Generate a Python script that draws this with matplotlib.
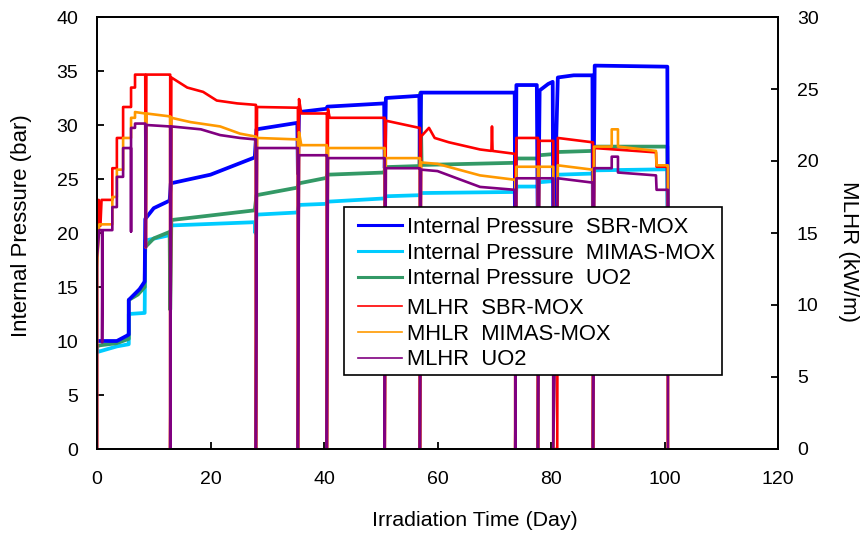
import matplotlib
matplotlib.use("Agg")
import matplotlib.pyplot as plt
from matplotlib.patches import Rectangle

plt.rcParams['font.family'] = ['Liberation Sans', 'DejaVu Sans']

# ---------------- data ----------------
# Internal pressure (bar), SBR-MOX
p_sbr_day = [0.0, 3.5, 5.3, 5.6, 5.6, 7.5, 8.4, 8.5, 10.0, 12.8, 13.0, 20.0, 27.8,
             28.1, 35.3, 35.4, 35.6, 40.4, 40.6, 50.6, 50.7, 50.9, 56.8, 56.9, 57.1, 73.6, 73.7,
             73.9, 77.5, 77.7, 78.0, 79.5, 80.3, 80.4, 81.2, 84.0, 87.3, 87.4, 87.7, 100.5, 100.6]
p_sbr_val = [10.0, 10.0, 10.5, 10.6, 13.8, 14.8, 15.5, 21.3, 22.3, 23.0, 24.6, 25.4, 27.0,
             29.6, 30.2, 25.5, 31.2, 31.5, 31.7, 32.0, 26.0, 32.5, 32.7, 26.5, 33.0, 33.0, 18.0,
             33.7, 33.7, 18.0, 33.2, 33.8, 34.0, 18.0, 34.4, 34.6, 34.6, 18.0, 35.5, 35.4, 18.0]

# Internal pressure (bar), MIMAS-MOX
p_mimas_day = [0.0, 0.2, 3.5, 5.6, 5.6, 8.4, 8.5, 12.8, 12.9, 13.1, 27.8, 27.9, 28.1, 35.3, 35.6,
               40.4, 40.6, 50.6, 50.8, 56.8, 57.1, 73.6, 73.7, 73.9, 77.6, 77.9, 80.3, 81.2, 87.3,
               87.6, 100.5, 100.6]
p_mimas_val = [9.3, 9.0, 9.5, 9.7, 12.5, 12.6, 19.3, 19.8, 19.8, 20.7, 21.0, 20.0, 21.7, 21.9, 22.6,
               22.7, 22.9, 23.2, 23.4, 23.5, 23.7, 23.8, 21.0, 24.3, 24.3, 24.7, 24.8, 25.4, 25.5,
               25.8, 25.9, 18.0]

# Internal pressure (bar), UO2
p_uo2_day = [0.0, 0.5, 3.5, 5.6, 5.6, 7.2, 8.4, 8.5, 10.0, 12.8, 12.9, 13.1, 27.8, 28.1, 35.3,
             35.6, 40.4, 40.6, 50.6, 50.8, 56.8, 57.0, 57.2, 73.6, 73.9, 77.6, 77.9, 80.3, 81.2,
             87.3, 87.6, 100.5, 100.6]
p_uo2_val = [9.5, 9.6, 9.8, 10.2, 13.8, 14.3, 15.0, 18.7, 19.5, 20.1, 12.9, 21.2, 22.1, 23.5, 24.2,
             24.6, 25.1, 25.4, 25.6, 26.1, 26.2, 33.0, 26.3, 26.5, 26.9, 26.9, 27.2, 27.3, 27.5,
             27.6, 28.0, 28.0, 20.0]

# MLHR (kW/m), SBR-MOX
q_sbr_day = [0.0, 0.0, 0.3, 0.6, 0.8, 2.7, 2.7, 3.5, 3.5, 4.6, 4.6, 6.0, 6.0, 6.7, 6.7, 8.5,
             8.6, 8.7, 12.8,
             12.9, 12.9, 13.1, 15.9, 18.7, 21.1, 24.7, 27.9, 28.0, 28.0, 28.2, 35.3, 35.4, 35.4,
             35.6, 36.0, 40.4, 40.5, 40.5, 40.7, 41.0, 50.6, 50.7, 50.7, 50.9, 56.8, 56.9, 56.9,
             57.1, 58.5, 59.5, 62.0, 67.5, 69.5, 69.6, 69.7, 73.6, 73.7, 73.7, 73.9, 77.6, 77.7,
             77.7, 77.9, 80.3, 80.4, 80.4, 81.0, 81.1, 81.1, 81.2, 87.3, 87.4, 87.4, 87.6, 98.5,
             98.6, 100.5, 100.6, 100.6]
q_sbr_val = [0.0, 14.0, 17.3, 15.5, 17.3, 17.3, 19.5, 19.5, 21.6, 21.6, 23.75, 23.75, 25.1, 25.1, 26.0, 26.0,
             14.0, 26.0, 26.0,
             26.0, 0.0, 25.8, 25.1, 24.8, 24.2, 24.0, 23.9, 23.9, 0.0, 23.75, 23.7, 23.7, 0.0,
             24.3, 23.3, 23.3, 23.3, 0.0, 23.6, 23.0, 23.0, 23.0, 0.0, 22.8, 22.3, 22.3, 0.0,
             21.7, 22.3, 21.6, 21.3, 20.8, 20.7, 22.4, 20.7, 20.5, 20.5, 0.0, 21.6, 21.6, 21.6,
             0.0, 21.4, 21.4, 21.4, 0.0, 0.0, 0.0, 0.0, 21.6, 21.3, 21.3, 0.0, 20.9, 20.6,
             19.6, 19.6, 19.6, 0.0]

# MLHR (kW/m), MIMAS-MOX
q_mimas_day = [0.0, 0.0, 0.4, 2.7, 2.7, 3.5, 3.5, 4.6, 4.6, 6.0, 6.0, 6.7, 6.7, 8.5, 8.6, 8.7,
               12.8, 12.9, 12.9,
               13.1, 16.5, 21.7, 25.2, 27.9, 28.0, 28.0, 28.2, 35.3, 35.4, 35.4, 35.6, 36.0, 40.4,
               40.5, 40.5, 40.7, 50.6, 50.7, 50.7, 50.9, 56.8, 56.9, 56.9, 57.1, 60.0, 67.5, 73.6,
               73.7, 73.7, 73.9, 77.6, 77.7, 77.7, 77.9, 80.3, 80.4, 80.4, 81.2, 87.3, 87.4, 87.4,
               87.6, 90.7, 90.7, 91.8, 91.8, 98.5, 98.6, 100.5, 100.6, 100.6]
q_mimas_val = [0.0, 12.6, 15.6, 15.6, 17.5, 17.5, 19.4, 19.4, 21.6, 21.6, 23.0, 23.0, 23.4, 23.3, 14.0, 23.3,
               23.1, 23.1, 0.0,
               23.0, 22.7, 22.4, 21.9, 21.7, 21.7, 0.0, 21.6, 21.5, 21.5, 0.0, 22.0, 21.1, 21.1,
               21.1, 0.0, 20.9, 20.9, 20.9, 0.0, 20.2, 20.2, 20.2, 0.0, 19.9, 19.8, 19.0, 18.7,
               18.7, 0.0, 19.6, 19.6, 19.6, 0.0, 19.6, 19.6, 19.6, 0.0, 19.7, 19.4, 19.4, 0.0,
               21.0, 21.0, 22.2, 22.2, 21.0, 20.7, 19.7, 19.7, 19.7, 0.0]

# MLHR (kW/m), UO2
q_uo2_day = [0.0, 0.0, 0.4, 0.9, 0.9, 1.0, 2.7, 2.7, 3.5, 3.5, 4.6, 4.6, 6.0, 6.0, 6.0, 6.7, 6.7,
             8.5, 8.6, 8.7, 12.8, 12.9, 12.9,
             13.1, 18.3, 21.7, 25.2, 27.9, 28.0, 28.0, 28.2, 35.3, 35.4, 35.4,
             35.6, 40.4, 40.5, 40.5, 40.7, 50.6, 50.7, 50.7, 50.9, 56.8, 56.9, 56.9, 57.1, 60.0,
             67.5, 73.6, 73.7, 73.7, 73.9, 77.6, 77.7, 77.7, 77.9, 80.3, 80.4, 80.4, 81.2, 87.3,
             87.4, 87.4, 87.6, 90.7, 90.7, 91.8, 91.8, 98.5, 98.6, 100.5, 100.6, 100.6]
q_uo2_val = [0.0, 13.3, 15.2, 15.2, 7.4, 15.2, 15.2, 16.8, 16.8, 18.9, 18.9, 20.9, 20.9, 15.1, 22.3, 22.3, 22.6,
             22.6, 14.0, 22.5, 22.4, 22.4, 0.0,
             22.4, 22.2, 21.8, 21.6, 21.5, 21.5, 0.0, 20.9, 20.9, 20.9, 0.0,
             20.4, 20.4, 20.4, 0.0, 20.2, 20.2, 20.2, 0.0, 19.5, 19.5, 19.5, 0.0, 19.4, 19.3,
             18.2, 18.0, 18.0, 0.0, 18.8, 18.8, 18.8, 0.0, 18.8, 18.8, 18.8, 0.0, 18.8, 18.5,
             18.5, 0.0, 19.5, 19.5, 20.3, 20.3, 19.2, 19.0, 18.0, 18.0, 18.0, 0.0]

x_ticks = [0, 20, 40, 60, 80, 100, 120]
p_ticks = [0, 5, 10, 15, 20, 25, 30, 35, 40]
q_ticks = [0, 5, 10, 15, 20, 25, 30]

labels_pressure = ["Internal Pressure  SBR-MOX", "Internal Pressure  MIMAS-MOX",
                   "Internal Pressure  UO2"]
labels_mlhr = ["MLHR  SBR-MOX", "MHLR  MIMAS-MOX", "MLHR  UO2"]

# ---------------- figure ----------------
fig = plt.figure(figsize=(8.64, 5.35), dpi=100)
ax = fig.add_axes([97/864, 1-449/535, 681/864, 432/535])
ax2 = ax.twinx()

c_blue, c_cyan, c_green = '#0000FF', '#00CCFF', '#339966'
c_red, c_orange, c_purple = '#FF0000', '#FF9900', '#800080'

l1, = ax.plot(p_sbr_day, p_sbr_val, color=c_blue, lw=2.7, zorder=3)
l2, = ax.plot(p_mimas_day, p_mimas_val, color=c_cyan, lw=2.7, zorder=2)
l3, = ax.plot(p_uo2_day, p_uo2_val, color=c_green, lw=2.7, zorder=2)
l4, = ax2.plot(q_sbr_day, q_sbr_val, color=c_red, lw=1.9)
l5, = ax2.plot(q_mimas_day, q_mimas_val, color=c_orange, lw=1.9)
l6, = ax2.plot(q_uo2_day, q_uo2_val, color=c_purple, lw=1.9)

ax.set_xlim(0, 120)
ax.set_ylim(0, 40)
ax2.set_ylim(0, 30)
ax.set_xticks(x_ticks)
ax.set_yticks(p_ticks)
ax2.set_yticks(q_ticks)

for a in (ax, ax2):
    for s in a.spines.values():
        s.set_linewidth(1.3)
        s.set_color('black')
ax.tick_params(axis='x', direction='in', length=5, width=1.3, labelsize=14, pad=16)
ax.tick_params(axis='y', direction='in', length=5, width=1.3, labelsize=14, pad=13.5)
ax2.tick_params(axis='y', direction='in', length=5, width=1.3, labelsize=14, pad=13.5)

fig.text(475/864, 1-521/535, "Irradiation Time (Day)", fontsize=15.4, ha='center', va='center')
fig.text(22/864, 1-226/535, "Internal Pressure (bar)", fontsize=16, rotation=90,
         ha='center', va='center')
fig.text(849/864, 1-251/535, "MLHR (kW/m)", fontsize=16, rotation=270,
         ha='center', va='center')

# legend: white box with two groups of entries
ax2.add_patch(Rectangle((0.3627, 0.1713), 0.5551, 0.3889, transform=ax2.transAxes,
                        facecolor='white', edgecolor='black', lw=1.2, zorder=4))
leg_kw = dict(loc='upper left', fontsize=15.8, frameon=False, handlelength=2.0,
              handletextpad=0.25, labelspacing=0.21, borderpad=0, borderaxespad=0)
legA = ax2.legend([l1, l2, l3], labels_pressure, bbox_to_anchor=(0.3833, 0.537), **leg_kw)
for h in legA.legend_handles:
    h.set_linewidth(2.2)
ax2.add_artist(legA)
legB = ax2.legend([l4, l5, l6], labels_mlhr, bbox_to_anchor=(0.3833, 0.3495), **leg_kw)
for h in legB.legend_handles:
    h.set_linewidth(1.2)

fig.savefig("out.png", dpi=100)
